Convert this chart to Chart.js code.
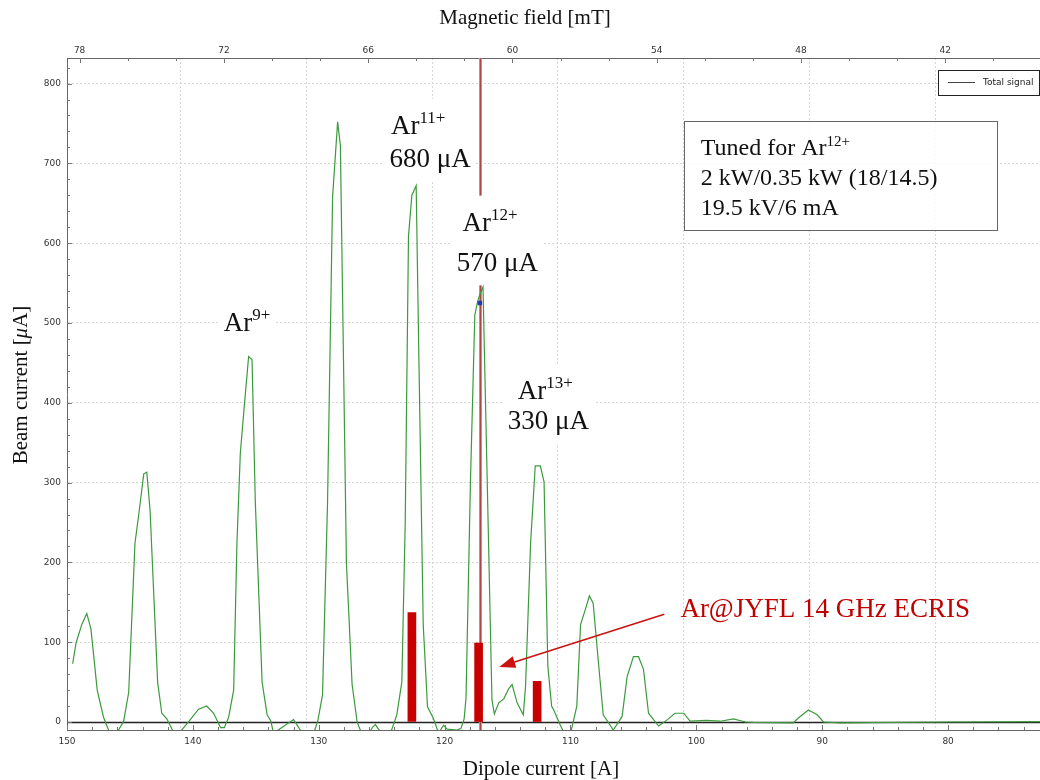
<!DOCTYPE html>
<html>
<head>
<meta charset="utf-8">
<script src="https://cdn.jsdelivr.net/npm/chart.js@4.4.0/dist/chart.umd.min.js"></script>
<style>
  html, body { margin: 0; padding: 0; background: #fff; }
  #wrap { width: 1040px; height: 780px; }
</style>
</head>
<body>
<div id="wrap"><canvas id="spectrum" width="1040" height="780"></canvas></div>
<script>
// Total signal: dipole current [A] vs beam current [uA]
const currentA = [
  149.55, 149.28, 148.83, 148.43, 148.1, 147.6, 147.1, 146.6, 146.05, 145.5,
  145.1, 144.6, 144.3, 143.9, 143.66, 143.4, 142.8, 142.47, 142.07, 141.5,
  141.1, 140.3, 139.55, 138.9, 138.35, 137.8, 137.5, 137.16, 136.76, 136.5,
  136.23, 135.9, 135.57, 135.3, 135.04, 134.5, 134.1, 133.8, 133.6, 132.84,
  132.0, 131.3, 130.4, 130.08, 129.7, 129.3, 128.9, 128.5, 128.28, 127.8,
  127.35, 126.95, 126.6, 126.0, 125.7, 125.5, 125.3, 125.0, 124.3, 123.8,
  123.4, 123.13, 122.87, 122.6, 122.26, 122.07, 121.7, 121.36, 120.88, 120.48,
  120.08, 119.8, 119.0, 118.7, 118.45, 118.3, 117.95, 117.6, 117.38, 117.17,
  116.95, 116.24, 116.05, 115.7, 115.3, 114.9, 114.64, 114.24, 113.75, 113.57,
  113.17, 112.8, 112.4, 112.1, 111.8, 111.5, 111.3, 110.9, 110.5, 110.0,
  109.8, 109.5, 109.2, 108.8, 108.5, 108.2, 107.8, 107.4, 106.6, 105.9,
  105.5, 105.0, 104.6, 104.2, 103.8, 103.0, 102.3, 101.7, 101.0, 100.5,
  99.2, 98.1, 97.05, 96.1, 95.5, 92.3, 91.9, 91.1, 90.4, 89.9,
  88.6, 80.0, 72.7
];
const beamUA = [
  73, 99, 122, 136, 117, 40, 6, -14, -14, 1,
  37, 224, 260, 311, 313, 265, 50, 11, 4, -14,
  -14, 1, 16, 20, 11, -7, -7, 6, 40, 224,
  337, 399, 458, 454, 276, 50, 9, 1, -14, -6,
  3, -14, -14, 1, 34, 276, 658, 752, 722, 199,
  47, 0, -14, -14, -6, -3, -8, -14, -14, 9,
  50, 250, 609, 660, 672, 481, 122, 19, 4, -14,
  -4, -9, -10, -8, 4, 30, 300, 510, 527, 537,
  545, 28, 10, 24, 29, 42, 47, 24, 9, 45,
  224, 321, 321, 301, 70, 20, 14, -1, -14, -14,
  -1, 20, 122, 142, 158, 149, 78, 9, -10, 7,
  57, 82, 82, 66, 11, -5, 3, 11, 11, 1,
  2, 1, 4, 0, -0.5, -1, 5, 15, 9, 0,
  -1, 0, 0.5
];

// Ar@JYFL 14 GHz ECRIS comparison bars
const barCurrentA = [122.6, 117.3, 112.65];
const barBeamUA = [137, 99, 51];

// cursor on the tuned peak
const cursorCurrentA = 117.2;
const cursorBeamUA = 525;

// axes
const currentRange = [72.7, 150];
const beamRange = [-10, 832];
const mTperA = 0.5235;
const currentMajor = [150, 140, 130, 120, 110, 100, 90, 80];
const beamMajor = [0, 100, 200, 300, 400, 500, 600, 700, 800];
const fieldMajor = [78, 72, 66, 60, 54, 48, 42];
const currentMinorStep = 2;
const beamMinorStep = 20;
const fieldMinorStep = 2;

// peak annotations
const ionCharge = ['9+', '11+', '12+', '13+'];
const ionAmount = ['', '680 μA', '570 μA', '330 μA'];
const ionLabelAt = [[135.7, 501], [122.1, 748], [116.4, 627], [112.0, 416]];
const amountLabelAt = [null, [121.15, 707], [115.8, 576], [111.76, 378]];
const tuneLines = ['2 kW/0.35 kW (18/14.5)', '19.5 kV/6 mA'];

const SERIF = '"Liberation Serif", "Times New Roman", serif';
const SANS = '"DejaVu Sans", Verdana, sans-serif';

function stepTicks(from, to, step) {
  const out = [];
  for (let v = from; v >= to; v -= step) out.push({ value: v });
  return out;
}

function ionLabelBox(ctx, i) {
  ctx.font = '27px ' + SERIF;
  const wBase = ctx.measureText('Ar').width;
  ctx.font = '17px ' + SERIF;
  const wSup = ctx.measureText(ionCharge[i]).width;
  return { w: wBase + wSup, wBase };
}

function drawIon(ctx, i, cx, cy) {
  const m = ionLabelBox(ctx, i);
  const x0 = cx - m.w / 2;
  ctx.fillStyle = '#111';
  ctx.textAlign = 'left';
  ctx.textBaseline = 'alphabetic';
  ctx.font = '27px ' + SERIF;
  ctx.fillText('Ar', x0, cy + 9);
  ctx.font = '17px ' + SERIF;
  ctx.fillText(ionCharge[i], x0 + m.wBase, cy - 2);
}

const overlayPlugin = {
  id: 'overlay',
  beforeDatasetsDraw(chart) {
    const { ctx, chartArea: a, scales } = chart;
    const x = scales.x, y = scales.y;
    ctx.save();

    // zero line
    const zy = Math.round(y.getPixelForValue(0)) + 0.5;
    ctx.strokeStyle = '#222';
    ctx.lineWidth = 1.3;
    ctx.beginPath();
    ctx.moveTo(a.left, zy);
    ctx.lineTo(a.right, zy);
    ctx.stroke();

    // bottom frame line
    ctx.strokeStyle = '#666';
    ctx.lineWidth = 1;
    ctx.beginPath();
    ctx.moveTo(a.left, Math.round(a.bottom) + 0.5);
    ctx.lineTo(a.right, Math.round(a.bottom) + 0.5);
    ctx.stroke();

    // cursor line
    const cx = Math.round(x.getPixelForValue(cursorCurrentA)) + 0.5;
    ctx.strokeStyle = 'rgb(200,140,140)';
    ctx.lineWidth = 3;
    ctx.beginPath(); ctx.moveTo(cx, a.top); ctx.lineTo(cx, a.bottom); ctx.stroke();
    ctx.strokeStyle = 'rgb(175,70,70)';
    ctx.lineWidth = 1;
    ctx.beginPath(); ctx.moveTo(cx, a.top); ctx.lineTo(cx, a.bottom); ctx.stroke();

    // white boxes behind the peak labels
    ctx.fillStyle = '#fff';
    ionLabelAt.forEach((p, i) => {
      const px = x.getPixelForValue(p[0]), py = y.getPixelForValue(p[1]);
      const w0 = ionLabelBox(ctx, i).w;
      let left = px - w0 / 2, right = px + w0 / 2;
      let top = py - 26, bottom = py + 14;
      if (amountLabelAt[i]) {
        ctx.font = '27px ' + SERIF;
        const w = ctx.measureText(ionAmount[i]).width;
        const qx = x.getPixelForValue(amountLabelAt[i][0]), qy = y.getPixelForValue(amountLabelAt[i][1]);
        left = Math.min(left, qx - w / 2);
        right = Math.max(right, qx + w / 2);
        bottom = qy + 23;
      }
      ctx.fillRect(left - 5, top, right - left + 10, bottom - top);
    });

    // tune info box
    const bx = Math.round(x.getPixelForValue(101.0)) + 0.5;
    const by = Math.round(y.getPixelForValue(753)) + 0.5;
    ctx.fillStyle = 'rgba(255,255,255,0.85)';
    ctx.fillRect(bx, by, 313, 109);
    ctx.strokeStyle = '#666';
    ctx.lineWidth = 1;
    ctx.strokeRect(bx, by, 313, 109);

    // legend
    ctx.fillStyle = '#fff';
    ctx.fillRect(938.5, 70.5, 101, 25);
    ctx.strokeStyle = '#222';
    ctx.strokeRect(938.5, 70.5, 101, 25);
    ctx.strokeStyle = '#444';
    ctx.beginPath(); ctx.moveTo(948, 82.5); ctx.lineTo(975, 82.5); ctx.stroke();
    ctx.fillStyle = '#222';
    ctx.font = '9px ' + SANS;
    ctx.textAlign = 'left';
    ctx.textBaseline = 'middle';
    ctx.fillText('Total signal', 983, 83);

    ctx.restore();
  },
  afterDatasetsDraw(chart) {
    const { ctx, scales } = chart;
    const x = scales.x, y = scales.y;
    ctx.save();

    // peak labels
    ionLabelAt.forEach((p, i) => {
      drawIon(ctx, i, x.getPixelForValue(p[0]), y.getPixelForValue(p[1]));
      if (amountLabelAt[i]) {
        ctx.font = '27px ' + SERIF;
        ctx.textAlign = 'center';
        ctx.textBaseline = 'alphabetic';
        ctx.fillStyle = '#111';
        ctx.fillText(ionAmount[i], x.getPixelForValue(amountLabelAt[i][0]), y.getPixelForValue(amountLabelAt[i][1]) + 9);
      }
    });

    // tune info text
    const bx = x.getPixelForValue(101.0), by = y.getPixelForValue(753);
    ctx.fillStyle = '#111';
    ctx.textAlign = 'left';
    ctx.textBaseline = 'alphabetic';
    ctx.font = '24px ' + SERIF;
    ctx.fillText('Tuned for Ar', bx + 17, by + 34);
    const wt = ctx.measureText('Tuned for Ar').width;
    ctx.font = '15px ' + SERIF;
    ctx.fillText('12+', bx + 17 + wt, by + 25);
    ctx.font = '24px ' + SERIF;
    tuneLines.forEach((t, k) => ctx.fillText(t, bx + 17, by + 64 + 30 * k));

    // source label and arrow
    ctx.fillStyle = '#c00000';
    ctx.font = '27px ' + SERIF;
    ctx.fillText('Ar@JYFL 14 GHz ECRIS', x.getPixelForValue(101.27), y.getPixelForValue(131.6));
    const tx = x.getPixelForValue(102.55), ty = y.getPixelForValue(135);
    const hx = x.getPixelForValue(115.66), hy = y.getPixelForValue(69);
    const ang = Math.atan2(hy - ty, hx - tx);
    ctx.strokeStyle = '#cc1111';
    ctx.lineWidth = 1.5;
    ctx.beginPath();
    ctx.moveTo(tx, ty);
    ctx.lineTo(hx - 12 * Math.cos(ang), hy - 12 * Math.sin(ang));
    ctx.stroke();
    ctx.fillStyle = '#cc1111';
    ctx.beginPath();
    ctx.moveTo(hx, hy);
    ctx.lineTo(hx - 16 * Math.cos(ang) + 6 * Math.sin(ang), hy - 16 * Math.sin(ang) - 6 * Math.cos(ang));
    ctx.lineTo(hx - 16 * Math.cos(ang) - 6 * Math.sin(ang), hy - 16 * Math.sin(ang) + 6 * Math.cos(ang));
    ctx.closePath();
    ctx.fill();

    ctx.restore();
  },
  afterDraw(chart) {
    const { ctx, chartArea: a, scales } = chart;
    ctx.save();
    ctx.strokeStyle = '#777';
    ctx.lineWidth = 1;
    // inward tick marks
    scales.y.ticks.forEach(t => {
      const p = Math.round(scales.y.getPixelForValue(t.value)) + 0.5;
      const len = beamMajor.includes(t.value) ? 5 : 3;
      ctx.beginPath(); ctx.moveTo(a.left, p); ctx.lineTo(a.left + len, p); ctx.stroke();
    });
    scales.x.ticks.forEach(t => {
      const p = Math.round(scales.x.getPixelForValue(t.value)) + 0.5;
      const len = currentMajor.includes(t.value) ? 5 : 3;
      ctx.beginPath(); ctx.moveTo(p, a.bottom); ctx.lineTo(p, a.bottom - len); ctx.stroke();
    });
    scales.x2.ticks.forEach(t => {
      const p = Math.round(scales.x2.getPixelForValue(t.value)) + 0.5;
      const len = fieldMajor.includes(t.value) ? 5 : 3;
      ctx.beginPath(); ctx.moveTo(p, a.top); ctx.lineTo(p, a.top + len); ctx.stroke();
    });

    // axis titles
    ctx.fillStyle = '#111';
    ctx.font = '21px ' + SERIF;
    ctx.textAlign = 'center';
    ctx.textBaseline = 'middle';
    ctx.fillText('Magnetic field [mT]', 525, 18);
    ctx.fillText('Dipole current [A]', 541, 769);

    ctx.translate(21, 385);
    ctx.rotate(-Math.PI / 2);
    const p1 = 'Beam current [', p2 = 'μ', p3 = 'A]';
    const w1 = ctx.measureText(p1).width;
    ctx.font = 'italic 21px ' + SERIF;
    const w2 = ctx.measureText(p2).width;
    ctx.font = '21px ' + SERIF;
    const w3 = ctx.measureText(p3).width;
    const sx = -(w1 + w2 + w3) / 2;
    ctx.textAlign = 'left';
    ctx.fillText(p1, sx, 0);
    ctx.font = 'italic 21px ' + SERIF;
    ctx.fillText(p2, sx + w1, 0);
    ctx.font = '21px ' + SERIF;
    ctx.fillText(p3, sx + w1 + w2, 0);
    ctx.restore();
  }
};

const tickFont = { family: SANS, size: 9 };
const noSidePadding = s => { s.paddingLeft = 0; s.paddingRight = 0; };

new Chart(document.getElementById('spectrum'), {
  type: 'line',
  data: {
    datasets: [
      {
        type: 'scatter',
        label: 'Cursor',
        data: [{ x: cursorCurrentA, y: cursorBeamUA }],
        pointStyle: 'rect',
        pointRadius: 2.5,
        backgroundColor: '#2035b0',
        borderColor: '#2035b0',
        order: 0
      },
      {
        type: 'line',
        label: 'Total signal',
        data: currentA.map((c, i) => ({ x: c, y: beamUA[i] })),
        borderColor: '#3c9a3c',
        borderWidth: 1.2,
        pointRadius: 0,
        tension: 0,
        clip: 0,
        order: 1
      },
      {
        type: 'bar',
        label: 'Ar@JYFL 14 GHz ECRIS',
        data: barCurrentA.map((c, i) => ({ x: c, y: barBeamUA[i] })),
        backgroundColor: '#c80000',
        barThickness: 8,
        order: 2
      }
    ]
  },
  options: {
    responsive: false,
    animation: false,
    devicePixelRatio: 1,
    layout: { padding: 0, autoPadding: false },
    plugins: { legend: { display: false }, tooltip: { enabled: false } },
    scales: {
      x: {
        type: 'linear',
        position: 'bottom',
        reverse: true,
        min: currentRange[0],
        max: currentRange[1],
        offset: false,
        afterFit: s => { s.height = 50; noSidePadding(s); },
        afterBuildTicks: s => { s.ticks = stepTicks(150, 73, currentMinorStep); },
        ticks: {
          autoSkip: false, maxRotation: 0, padding: 6, color: '#333', font: tickFont,
          callback: v => currentMajor.includes(v) ? String(v) : ''
        },
        grid: {
          drawTicks: false,
          color: c => (c.tick && currentMajor.includes(c.tick.value) && c.tick.value !== 150) ? '#d6d6d6' : 'rgba(0,0,0,0)'
        },
        border: { display: false, dash: [2, 2] }
      },
      x2: {
        type: 'linear',
        position: 'top',
        reverse: true,
        min: currentRange[0] * mTperA,
        max: currentRange[1] * mTperA,
        afterFit: s => { s.height = 58; noSidePadding(s); },
        afterBuildTicks: s => { s.ticks = stepTicks(78, 39, fieldMinorStep); },
        ticks: {
          autoSkip: false, maxRotation: 0, padding: 2, color: '#333', font: tickFont,
          callback: v => fieldMajor.includes(v) ? String(v) : ''
        },
        grid: { display: false, drawTicks: false },
        border: { display: true, color: '#666', width: 1 }
      },
      y: {
        type: 'linear',
        min: beamRange[0],
        max: beamRange[1],
        afterFit: s => { s.width = 67; },
        afterBuildTicks: s => { s.ticks = stepTicks(820, 0, beamMinorStep); },
        ticks: {
          autoSkip: false, padding: 6, color: '#333', font: tickFont,
          callback: v => beamMajor.includes(v) ? String(v) : ''
        },
        grid: {
          drawTicks: false,
          color: c => (c.tick && beamMajor.includes(c.tick.value) && c.tick.value !== 0) ? '#d6d6d6' : 'rgba(0,0,0,0)'
        },
        border: { display: true, color: '#666', width: 1, dash: [2, 2] }
      }
    }
  },
  plugins: [overlayPlugin]
});
</script>
</body>
</html>
